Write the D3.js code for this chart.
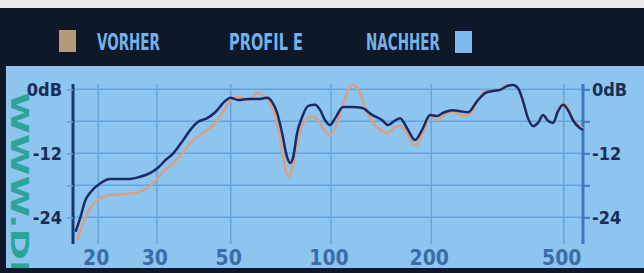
<!DOCTYPE html>
<html>
<head>
<meta charset="utf-8">
<script src="https://cdn.jsdelivr.net/npm/d3@7"></script>
<style>
  html, body { margin: 0; padding: 0; background: #e9eaec; }
  svg { display: block; }
</style>
</head>
<body>
<script>
const width = 644;
const height = 273;
const fontFamily = "\"DejaVu Sans Condensed\", \"Liberation Sans Narrow\", sans-serif";

// frequency ticks (Hz) and level ticks (dB)
const freqTicks = [20, 30, 50, 100, 200, 500];
const gridDb = [0, -6, -12, -18, -24];
const labelDb = [0, -12, -24];

// VORHER (before) curve
const vorherHz = [17.3, 17.7, 18.9, 20.3, 21.7, 24.9, 27.3, 29.2, 31.3, 33.6, 36.0, 38.6, 41.3, 44.3, 47.4,
  49.8, 52.6, 56.4, 60.4, 62.6, 64.8, 68.0, 70.4, 72.8, 74.3, 76.4, 79.1, 82.5, 87.8, 91.5, 96.0, 99.4,
  102.9, 108, 112.6, 116.5, 120.6, 126.6, 132.9, 140.4, 148.4, 155.8, 161.2, 166.9, 178.9, 187.7, 198.4,
  208.2, 217.0, 231.0, 244.0, 258.0, 274.6, 290.2, 306.6, 321.8, 337.8, 352.0, 364.4, 377.2, 390.4, 404.2,
  418.4, 433.2, 448.4, 464, 480.4, 497.4, 514.8, 533, 559.4, 571];
const vorherDb = [-28.3, -26.4, -22.3, -20.4, -19.8, -19.6, -18.9, -17.6, -15.5, -13.8, -11.8, -9.5, -8.2, -6.7, -4.3,
  -2.0, -1.4, -2.0, -0.7, -1.1, -2.0, -5.2, -9.5, -14.6, -16.4, -15.1, -10.1, -6.3, -5.2, -5.8, -8.0, -8.6,
  -7.3, -3.3, -0.1, 0.8, -0.1, -3.3, -6.1, -7.6, -8.2, -7.1, -6.9, -7.6, -10.6, -8.6, -5.0,
  -5.8, -5.0, -4.1, -4.8, -4.8, -2.4, -0.3, -0.3, 0.0, 0.8, 0.8, 0.2, -2.2, -5.4, -6.9,
  -6.3, -4.8, -5.9, -6.3, -4.1, -2.6, -3.6, -5.6, -6.9, -7.4];

// NACHHER (after) curve
const nachherHz = [17.1, 17.7, 18.3, 18.9, 20.3, 21.7, 23.3, 24.9, 26.7, 28.6, 30.1, 31.8, 33.6, 36.0, 37.8,
  39.9, 42.5, 44.9, 48.1, 49.8, 52.6, 56.4, 60.4, 64.3, 66.6, 68.9, 71.3, 73.8, 75.4, 77.0, 79.1, 81.9,
  85.4, 89.6, 92.8, 96.0, 99.4, 102.9, 108.8, 115.7, 124.0, 132.9, 142.4, 148.4, 153.6, 161.2, 169.2,
  178.9, 187.7, 198.4, 208.2, 217.0, 231.0, 244.0, 258.0, 274.6, 290.2, 306.6, 321.8, 337.8, 352.0, 364.4,
  377.2, 390.4, 404.2, 418.4, 433.2, 448.4, 464, 480.4, 497.4, 514.8, 533, 559.4, 571];
const nachherDb = [-26.7, -23.9, -20.8, -19.4, -17.6, -16.8, -16.8, -16.8, -16.4, -15.7, -14.8, -13.3, -12.0, -9.5, -7.6,
  -6.1, -5.4, -4.3, -2.2, -1.6, -2.0, -1.8, -1.8, -1.6, -2.4, -4.4, -8.2, -12.7, -13.8, -12.7, -8.2, -5.2,
  -3.1, -2.9, -3.9, -5.8, -6.7, -5.4, -3.3, -3.3, -3.5, -4.8, -5.8, -6.7, -6.1, -5.4, -7.3,
  -9.5, -7.6, -4.8, -5.0, -4.4, -3.9, -4.1, -4.3, -2.2, -0.7, -0.3, -0.1, 0.6, 0.8, 0.2,
  -2.2, -5.4, -6.9, -6.3, -4.8, -5.9, -6.3, -4.1, -2.9, -3.9, -5.8, -7.3, -7.6];

const colors = {
    header: "#0f1829",
    panel: "#8dc5ee",
    grid: "#67a4dc",
    vorher: "#d6a184",
    nachher: "#1a2a68",
    legendText: "#72b3ea",
    legendVorher: "#b39b7a",
    legendNachher: "#7cbbee",
    axisLeft: "#1b3572",
    axisRight: "#3b78bf",
    yLabel: "#1c2d55",
    xLabel: "#3c6da6",
    watermark: "#1d9f8b"
};

function toPoints(hz, db) {
    return hz.map((f, i) => ({ f: f, db: db[i] }));
}

function drawFrame(svg) {
    svg.append("rect")
        .attr("x", 0).attr("y", 8)
        .attr("width", width).attr("height", height - 8)
        .attr("fill", colors.header);
    svg.append("rect")
        .attr("x", 6).attr("y", 66)
        .attr("width", width - 6).attr("height", 202)
        .attr("fill", colors.panel);
}

function drawLegend(svg) {
    svg.append("rect")
        .attr("x", 59).attr("y", 30).attr("width", 17).attr("height", 22)
        .attr("fill", colors.legendVorher);
    svg.append("rect")
        .attr("x", 455).attr("y", 31).attr("width", 17).attr("height", 22)
        .attr("fill", colors.legendNachher);

    const items = [
        { text: "VORHER", x: 97, len: 63 },
        { text: "PROFIL E", x: 229, len: 74 },
        { text: "NACHHER", x: 366, len: 74 }
    ];
    svg.selectAll("text.legend")
        .data(items)
        .enter()
        .append("text")
        .classed("legend", true)
        .attr("x", d => d.x)
        .attr("y", 50)
        .attr("textLength", d => d.len)
        .attr("lengthAdjust", "spacingAndGlyphs")
        .attr("font-family", fontFamily)
        .attr("font-weight", "bold")
        .attr("font-size", 23)
        .attr("fill", colors.legendText)
        .text(d => d.text);
}

function drawChart(svg) {
    const x = d3.scaleLog().domain([16.8, 571]).range([73, 583]);
    const y = d3.scaleLinear().domain([1, -29]).range([84, 244]);

    const clip = svg.append("clipPath").attr("id", "panel-clip");
    clip.append("rect").attr("x", 6).attr("y", 66).attr("width", width - 6).attr("height", 202);

    // watermark
    svg.append("g")
        .attr("clip-path", "url(#panel-clip)")
        .append("text")
        .attr("transform", "translate(11,92) rotate(90)")
        .attr("textLength", 182)
        .attr("lengthAdjust", "spacingAndGlyphs")
        .attr("font-family", "\"DejaVu Sans\", sans-serif")
        .attr("font-weight", "bold")
        .attr("font-size", 25)
        .attr("fill", colors.watermark)
        .attr("opacity", 0.85)
        .text("WWW.DI");

    // grid
    const grid = svg.append("g").classed("grid", true);
    grid.selectAll("line.h")
        .data(gridDb)
        .enter()
        .append("line")
        .attr("x1", x.range()[0]).attr("x2", x.range()[1])
        .attr("y1", d => y(d)).attr("y2", d => y(d))
        .attr("stroke", colors.grid).attr("stroke-width", 1.5);
    grid.selectAll("line.v")
        .data(freqTicks)
        .enter()
        .append("line")
        .attr("x1", d => x(d)).attr("x2", d => x(d))
        .attr("y1", y.range()[0]).attr("y2", y.range()[1])
        .attr("stroke", colors.grid).attr("stroke-width", 1.5);

    // axes
    const left = svg.append("g")
        .attr("transform", "translate(73,0)")
        .call(d3.axisLeft(y).tickValues(gridDb).tickSize(6).tickFormat(""));
    left.select(".domain").attr("stroke", colors.axisLeft).attr("stroke-width", 3).attr("d", `M0,${y.range()[0]}V${y.range()[1]}`);
    left.selectAll(".tick line").attr("stroke", colors.grid).attr("stroke-width", 1.5);

    const right = svg.append("g")
        .attr("transform", "translate(583,0)")
        .call(d3.axisRight(y).tickValues(gridDb).tickSize(7).tickFormat(""));
    right.select(".domain").attr("stroke", colors.axisRight).attr("stroke-width", 3).attr("d", `M0,${y.range()[0]}V${y.range()[1]}`);
    right.selectAll(".tick line").attr("stroke", colors.axisRight).attr("stroke-width", 2);

    const labelText = d => d === 0 ? "0dB" : String(d);
    svg.selectAll("text.ylabel-left")
        .data(labelDb)
        .enter()
        .append("text")
        .classed("ylabel-left", true)
        .attr("x", 62)
        .attr("y", d => y(d) + 7)
        .attr("text-anchor", "end")
        .attr("font-family", fontFamily)
        .attr("font-weight", "bold")
        .attr("font-size", 18)
        .attr("fill", colors.yLabel)
        .text(labelText);
    svg.selectAll("text.ylabel-right")
        .data(labelDb)
        .enter()
        .append("text")
        .classed("ylabel-right", true)
        .attr("x", 592)
        .attr("y", d => y(d) + 7)
        .attr("font-family", fontFamily)
        .attr("font-weight", "bold")
        .attr("font-size", 18)
        .attr("fill", colors.yLabel)
        .text(labelText);

    svg.selectAll("text.xlabel")
        .data(freqTicks)
        .enter()
        .append("text")
        .classed("xlabel", true)
        .attr("x", d => x(d) - 2)
        .attr("y", 265)
        .attr("text-anchor", "middle")
        .attr("font-family", fontFamily)
        .attr("font-weight", "bold")
        .attr("font-size", 21)
        .attr("fill", colors.xLabel)
        .text(d => d);

    // curves
    const line = d3.line()
        .x(d => x(d.f))
        .y(d => y(d.db))
        .curve(d3.curveMonotoneX);

    svg.append("path")
        .datum(toPoints(vorherHz, vorherDb))
        .attr("d", line)
        .attr("fill", "none")
        .attr("stroke", colors.vorher)
        .attr("stroke-width", 2.5)
        .attr("stroke-linejoin", "round");
    svg.append("path")
        .datum(toPoints(nachherHz, nachherDb))
        .attr("d", line)
        .attr("fill", "none")
        .attr("stroke", colors.nachher)
        .attr("stroke-width", 2.5)
        .attr("stroke-linejoin", "round");
}

const svg = d3.select("body")
    .append("svg")
    .attr("width", width)
    .attr("height", height);

drawFrame(svg);
drawLegend(svg);
drawChart(svg);
</script>
</body>
</html>
